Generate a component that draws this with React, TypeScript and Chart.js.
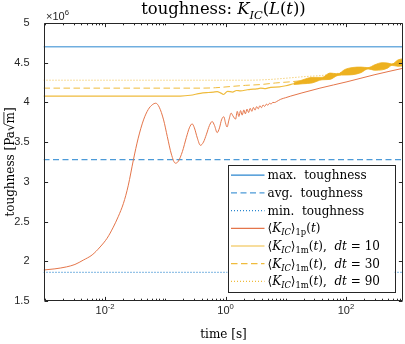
import React, { useEffect, useRef } from 'react';
import { Chart, registerables } from 'chart.js';

Chart.register(...registerables);

// ---------- axis ranges ----------
const X_MIN = 0.00095;
const X_MAX = 885;
const Y_MIN = 1.5;
const Y_MAX = 5;
const Y_STEP = 0.5;
const X_LABEL_EXPONENTS = [-2, 0, 2];
const Y_EXPONENT = '6';

// ---------- constant toughness levels (x10^6 Pa sqrt(m)) ----------
const MAX_TOUGHNESS = 4.7;
const AVG_TOUGHNESS = 3.28;
const MIN_TOUGHNESS = 1.86;

// ---------- <K_IC>_1p(t) : [time s, value] ----------
const K1P: [number, number][] = [
  [0.00095, 1.89], [0.00147, 1.905], [0.0023, 1.93], [0.00316, 1.96], [0.00435, 2.015],
  [0.0061, 2.08], [0.00826, 2.18], [0.0108, 2.29], [0.0137, 2.43], [0.0165, 2.56],
  [0.0202, 2.73], [0.0242, 2.95], [0.0296, 3.28], [0.0355, 3.55], [0.0435, 3.78],
  [0.052, 3.91], [0.0607, 3.97], [0.0695, 3.99], [0.0794, 3.94], [0.0937, 3.78],
  [0.108, 3.57], [0.126, 3.35], [0.147, 3.235], [0.165, 3.26], [0.192, 3.38],
  [0.224, 3.56], [0.251, 3.68], [0.279, 3.73], [0.304, 3.68], [0.341, 3.55],
  [0.383, 3.46], [0.43, 3.5], [0.483, 3.6], [0.541, 3.71], [0.6, 3.76],
  [0.656, 3.71], [0.727, 3.62], [0.794, 3.68], [0.858, 3.78], [0.937, 3.82],
  [1.0, 3.74], [1.06, 3.69], [1.14, 3.78], [1.24, 3.865], [1.33, 3.83],
  [1.468, 3.79], [1.567, 3.887], [1.666, 3.823], [1.778, 3.897], [1.891, 3.84],
  [2.011, 3.906], [2.138, 3.856], [2.273, 3.916], [2.417, 3.873], [2.57, 3.926],
  [2.733, 3.888], [2.906, 3.937], [3.09, 3.903], [3.286, 3.947], [3.494, 3.919],
  [3.715, 3.958], [3.95, 3.934], [4.2, 3.968], [4.467, 3.95], [4.75, 3.978],
  [5.05, 3.965], [5.37, 3.989], [5.71, 3.98], [6.072, 4.0], [6.556, 3.999],
  [7.079, 4.012], [8.254, 4.04], [10, 4.06], [12.12, 4.08], [18.6, 4.12],
  [37, 4.18], [104, 4.26], [303, 4.35], [885, 4.43],
];

// ---------- <K_IC>_1m(t), dt = 10 ----------
const K1M_DT10: [number, number][] = [
  [0.00095, 4.08], [0.178, 4.08], [0.261, 4.09], [0.383, 4.115], [0.521, 4.125],
  [0.631, 4.13], [0.727, 4.135], [0.825, 4.12], [0.926, 4.1], [1.08, 4.14],
  [1.308, 4.13], [1.525, 4.15], [1.778, 4.145], [2.3, 4.16], [2.61, 4.165],
  [3.29, 4.17], [3.83, 4.18], [4.64, 4.175], [5.62, 4.19], [7.85, 4.195],
  [10, 4.21], [13.6, 4.235], [19.3, 4.26], [27.3, 4.28], [40, 4.3],
  [54.2, 4.33], [73.6, 4.35], [96.2, 4.38], [130.6, 4.395], [177, 4.41],
  [232, 4.43], [303, 4.44], [396, 4.455], [498, 4.465], [580, 4.475],
  [730, 4.495], [885, 4.505],
];

// oscillation envelope of dt = 10 at late times: [time, upper, lower]
const K1M_DT10_BAND: [number, number, number][] = [
  [13.6, 4.245, 4.225], [19.3, 4.285, 4.235], [27.3, 4.315, 4.245], [40, 4.315, 4.285],
  [54.2, 4.37, 4.29], [73.6, 4.36, 4.34], [96.2, 4.415, 4.345], [130.6, 4.44, 4.35],
  [177, 4.445, 4.375], [232, 4.438, 4.422], [303, 4.475, 4.405], [396, 4.5, 4.41],
  [498, 4.495, 4.435], [580, 4.483, 4.467], [730, 4.535, 4.455], [885, 4.55, 4.46],
];

// ---------- <K_IC>_1m(t), dt = 30 ----------
const K1M_DT30: [number, number][] = [
  [0.00095, 4.18], [0.383, 4.18], [0.68, 4.185], [1.2, 4.2], [2.15, 4.215],
  [3.83, 4.225], [6.8, 4.245], [12.1, 4.26], [19.3, 4.275], [37, 4.295],
  [96.2, 4.375], [232, 4.43], [885, 4.505],
];

// ---------- <K_IC>_1m(t), dt = 90 ----------
const K1M_DT90: [number, number][] = [
  [0.00095, 4.28], [2.6, 4.28], [5.6, 4.29], [12.1, 4.31], [20.5, 4.325],
  [40, 4.34], [96.2, 4.38], [232, 4.43], [885, 4.505],
];

// ---------- text ----------
type Seg = { t: string; i?: boolean; sub?: boolean; sup?: boolean; sans?: boolean };

const TITLE: Seg[] = [
  { t: 'toughness: ' }, { t: 'K', i: true }, { t: 'IC', i: true, sub: true },
  { t: '(' }, { t: 'L', i: true }, { t: '(' }, { t: 't', i: true }, { t: '))' },
];
const X_TITLE = 'time [s]';
const Y_TITLE_A = 'toughness [Pa';
const Y_TITLE_ROOT = '√';
const Y_TITLE_B = 'm';
const Y_TITLE_C = ']';

const kAvg = (m: string): Seg[] => [
  { t: '⟨' }, { t: 'K', i: true }, { t: 'IC', i: true, sub: true }, { t: '⟩' },
  { t: m, sub: true }, { t: '(' }, { t: 't', i: true }, { t: ')' },
];
const LEGEND_LABELS: Seg[][] = [
  [{ t: 'max.  toughness' }],
  [{ t: 'avg.  toughness' }],
  [{ t: 'min.  toughness' }],
  kAvg('1p'),
  [...kAvg('1m'), { t: ',  ' }, { t: 'dt', i: true }, { t: ' = 10' }],
  [...kAvg('1m'), { t: ',  ' }, { t: 'dt', i: true }, { t: ' = 30' }],
  [...kAvg('1m'), { t: ',  ' }, { t: 'dt', i: true }, { t: ' = 90' }],
];

// ---------- styles ----------
const BLUE = '#2A86CF';
const BLUE_LIGHT = '#4C9AD8';
const ORANGE = '#E4754A';
const YELLOW = '#EDB120';
const YELLOW_LINE = '#EFBB3C';
const AXIS = '#262626';
const SERIF = '"DejaVu Serif", serif';
const SANS = '"Liberation Sans", Arial, sans-serif';

type Style = { color: string; width: number; dash: number[] };
const SERIES_STYLES: Style[] = [
  { color: BLUE, width: 1, dash: [] },
  { color: BLUE_LIGHT, width: 1.2, dash: [6, 3.5] },
  { color: BLUE, width: 1.2, dash: [1, 2] },
  { color: ORANGE, width: 1, dash: [] },
  { color: YELLOW_LINE, width: 1.2, dash: [] },
  { color: YELLOW_LINE, width: 1, dash: [6.5, 3.5] },
  { color: YELLOW_LINE, width: 1, dash: [1, 2] },
];

function drawRich(ctx: CanvasRenderingContext2D, segs: Seg[], x: number, y: number, size: number, measureOnly = false): number {
  let cx = x;
  for (const s of segs) {
    const small = s.sub || s.sup;
    const fs = small ? size * 0.7 : size;
    ctx.font = `${s.i ? 'italic ' : ''}${fs}px ${s.sans ? SANS : SERIF}`;
    const dy = s.sub ? size * 0.28 : s.sup ? -size * 0.42 : 0;
    if (!measureOnly) ctx.fillText(s.t, cx, y + dy);
    cx += ctx.measureText(s.t).width;
  }
  return cx - x;
}

const decorPlugin = {
  id: 'matlabDecor',
  afterDraw(chart: any) {
    const { ctx, chartArea: ca, scales } = chart;
    const xs = scales.x;
    const ys = scales.y;
    const L = Math.round(ca.left) + 0.5;
    const R = Math.round(ca.right) - 0.5;
    const T = Math.round(ca.top) + 0.5;
    const B = Math.round(ca.bottom) - 0.5;
    ctx.save();
    ctx.setLineDash([]);
    ctx.strokeStyle = AXIS;
    ctx.lineWidth = 1;
    ctx.beginPath();
    ctx.rect(L, T, R - L, B - T);
    for (let k = -4; k <= 3; k++) {
      for (let m = 1; m <= 9; m++) {
        const v = m * Math.pow(10, k);
        if (v < xs.min || v > xs.max) continue;
        const px = Math.round(xs.getPixelForValue(v)) + 0.5;
        const major = m === 1 && X_LABEL_EXPONENTS.includes(k);
        const len = major ? 3.6 : 1.8;
        ctx.moveTo(px, B); ctx.lineTo(px, B - len);
        ctx.moveTo(px, T); ctx.lineTo(px, T + len);
      }
    }
    for (let v = Y_MIN; v <= Y_MAX + 1e-9; v += Y_STEP) {
      const py = Math.round(ys.getPixelForValue(v)) + 0.5;
      ctx.moveTo(L, py); ctx.lineTo(L + 3.6, py);
      ctx.moveTo(R, py); ctx.lineTo(R - 3.6, py);
    }
    ctx.stroke();

    ctx.fillStyle = AXIS;
    ctx.textAlign = 'left';
    ctx.textBaseline = 'alphabetic';
    for (const k of X_LABEL_EXPONENTS) {
      const px = xs.getPixelForValue(Math.pow(10, k));
      const segs: Seg[] = [{ t: '10', sans: true }, { t: String(k), sans: true, sup: true }];
      const w = drawRich(ctx, segs, 0, 0, 11, true);
      drawRich(ctx, segs, px - w / 2, B + 13, 11);
    }
    drawRich(ctx, [{ t: '×10', sans: true }, { t: Y_EXPONENT, sans: true, sup: true }], L + 1.5, T - 4, 11);

    const tw = drawRich(ctx, TITLE, 0, 0, 16.4, true);
    ctx.fillStyle = '#000';
    drawRich(ctx, TITLE, (L + R) / 2 - tw / 2, 14, 16.4);

    ctx.font = `12px ${SERIF}`;
    ctx.textAlign = 'center';
    ctx.fillText(X_TITLE, (L + R) / 2, 338);

    ctx.save();
    ctx.translate(14, (T + B) / 2);
    ctx.rotate(-Math.PI / 2);
    ctx.textAlign = 'left';
    const fy = 12;
    ctx.font = `${fy}px ${SERIF}`;
    const wA = ctx.measureText(Y_TITLE_A).width;
    const wR = ctx.measureText(Y_TITLE_ROOT).width;
    const wB = ctx.measureText(Y_TITLE_B).width;
    const wC = ctx.measureText(Y_TITLE_C).width;
    let sx = -(wA + wR + wB + wC) / 2;
    ctx.fillText(Y_TITLE_A, sx, 0); sx += wA;
    ctx.fillText(Y_TITLE_ROOT, sx, 0); sx += wR;
    ctx.fillText(Y_TITLE_B, sx, 0);
    ctx.strokeStyle = '#000';
    ctx.lineWidth = 0.8;
    ctx.beginPath();
    ctx.moveTo(sx - 0.5, -fy * 0.84);
    ctx.lineTo(sx + wB, -fy * 0.84);
    ctx.stroke();
    sx += wB;
    ctx.fillText(Y_TITLE_C, sx, 0);
    ctx.restore();

    // legend
    const boxR = R - 8;
    const boxB = B - 9;
    const boxW = 167;
    const boxH = 127;
    const boxL = boxR - boxW;
    const boxT = boxB - boxH;
    ctx.fillStyle = '#fff';
    ctx.fillRect(boxL, boxT, boxW, boxH);
    ctx.strokeStyle = AXIS;
    ctx.lineWidth = 1;
    ctx.strokeRect(Math.round(boxL) + 0.5, Math.round(boxT) + 0.5, Math.round(boxW), Math.round(boxH));
    LEGEND_LABELS.forEach((segs, i) => {
      const st = SERIES_STYLES[i];
      const cy = boxT + 10.7 + i * 17.7;
      ctx.save();
      ctx.strokeStyle = st.color;
      ctx.lineWidth = Math.max(st.width, 1.2);
      ctx.setLineDash(st.dash);
      ctx.beginPath();
      ctx.moveTo(boxL + 3.5, cy);
      ctx.lineTo(boxL + 37, cy);
      ctx.stroke();
      ctx.restore();
      ctx.fillStyle = '#000';
      ctx.textAlign = 'left';
      drawRich(ctx, segs, boxL + 40, Math.round(cy) + 4, 12);
    });
    ctx.restore();
  },
};

export default function App() {
  const ref = useRef<HTMLCanvasElement>(null);
  useEffect(() => {
    const pts = (arr: number[][], col = 1) => arr.map((p) => ({ x: p[0], y: p[col] }));
    const hline = (v: number) => [{ x: X_MIN, y: v }, { x: X_MAX, y: v }];
    const series = [
      { label: 'max. toughness', data: hline(MAX_TOUGHNESS) },
      { label: 'avg. toughness', data: hline(AVG_TOUGHNESS) },
      { label: 'min. toughness', data: hline(MIN_TOUGHNESS) },
      { label: '<K_IC>_1p(t)', data: pts(K1P) },
      { label: '<K_IC>_1m(t), dt=10', data: pts(K1M_DT10) },
      { label: '<K_IC>_1m(t), dt=30', data: pts(K1M_DT30) },
      { label: '<K_IC>_1m(t), dt=90', data: pts(K1M_DT90) },
    ].map((d, i) => ({
      ...d,
      borderColor: SERIES_STYLES[i].color,
      backgroundColor: SERIES_STYLES[i].color,
      borderWidth: SERIES_STYLES[i].width,
      borderDash: SERIES_STYLES[i].dash,
      fill: false,
      order: 9 - i,
    }));
    const chart = new Chart(ref.current as HTMLCanvasElement, {
      type: 'line',
      data: {
        datasets: [
          ...series,
          { label: 'dt=10 upper', data: pts(K1M_DT10_BAND, 1), borderColor: YELLOW, backgroundColor: YELLOW, borderWidth: 0.8, borderDash: [], fill: '+1', order: 1 },
          { label: 'dt=10 lower', data: pts(K1M_DT10_BAND, 2), borderColor: YELLOW, backgroundColor: YELLOW, borderWidth: 0.8, borderDash: [], fill: false, order: 1 },
        ] as any,
      },
      options: {
        responsive: false,
        devicePixelRatio: 1,
        animation: false,
        layout: { padding: { top: 23, right: 2, left: 0, bottom: 0 } },
        elements: {
          point: { radius: 0, hitRadius: 0, hoverRadius: 0 },
          line: { cubicInterpolationMode: 'monotone', borderCapStyle: 'butt' },
        },
        plugins: {
          legend: { display: false },
          title: { display: false },
          tooltip: { enabled: false },
          colors: { enabled: false },
        } as any,
        events: [],
        scales: {
          x: {
            type: 'logarithmic',
            min: X_MIN,
            max: X_MAX,
            grid: { display: false },
            border: { display: false },
            ticks: { display: false },
            afterFit: (s: any) => { s.height = 43; },
          },
          y: {
            type: 'linear',
            min: Y_MIN,
            max: Y_MAX,
            grid: { display: false },
            border: { display: false },
            ticks: {
              stepSize: Y_STEP,
              color: AXIS,
              padding: 6,
              font: { family: SANS, size: 11 },
              callback: (v: any) => String(Math.round(Number(v) * 10) / 10),
            },
            afterFit: (s: any) => { s.width = 43.5; },
          },
        },
      },
      plugins: [decorPlugin],
    });
    return () => chart.destroy();
  }, []);
  return (
    <div style={{ position: 'absolute', left: 0, top: 0, width: 405, height: 344, background: '#fff' }}>
      <canvas ref={ref} width={405} height={344} style={{ display: 'block', width: 405, height: 344 }} />
    </div>
  );
}
